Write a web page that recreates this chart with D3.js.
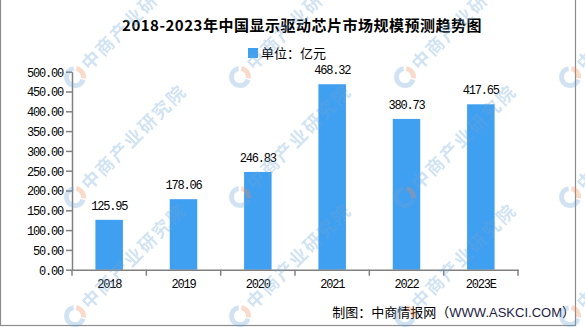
<!DOCTYPE html>
<html>
<head>
<meta charset="utf-8">
<script src="https://cdn.jsdelivr.net/npm/d3@7/dist/d3.min.js"></script>
<style>
  html, body { margin: 0; padding: 0; background: #fff; }
  svg { display: block; }
  .num { font-family: "Liberation Mono", "DejaVu Sans Mono", monospace; font-size: 12px; letter-spacing: -1.2px; fill: #000; }
</style>
</head>
<body>
<svg id="chart" width="585" height="327"></svg>
<script>
// Market size of display driver chips in China (亿元)
const categories = ["2018", "2019", "2020", "2021", "2022", "2023E"];
const values = [125.95, 178.06, 246.83, 468.32, 380.73, 417.65];
const yTicks = [0, 50, 100, 150, 200, 250, 300, 350, 400, 450, 500];
const titleText = "2018-2023年中国显示驱动芯片市场规模预测趋势图";
const legendText = "单位：亿元";
const sourceText = "制图：中商情报网（";
const sourceUrl = "WWW.ASKCI.COM";
const sourceEnd = "）";
const watermarkText = "中商产业研究院";

const W = 585, H = 327;
const barColor = "#3f9ff0";
const axisColor = "#808080";
const svg = d3.select("#chart");

// outer frame
svg.append("rect").attr("x", 0.5).attr("y", -1).attr("width", 575).attr("height", 326.5)
  .attr("fill", "#fff").attr("stroke", "#8c8c8c").attr("stroke-width", 1.2);

const x = d3.scaleBand().domain(categories).range([72, 518])
  .paddingInner(0.63).paddingOuter(0.315);
const y = d3.scaleLinear().domain([0, 500]).range([269.7, 71.7]);

// bars
svg.append("g").selectAll("rect").data(values).join("rect")
  .attr("x", (d, i) => x(categories[i]))
  .attr("y", d => y(d))
  .attr("width", x.bandwidth())
  .attr("height", d => y(0) - y(d))
  .attr("fill", barColor);

// value labels
svg.append("g").selectAll("text").data(values).join("text")
  .attr("class", "num")
  .attr("x", (d, i) => x(categories[i]) + x.bandwidth() / 2)
  .attr("y", d => y(d) - 10)
  .attr("text-anchor", "middle")
  .text(d => d.toFixed(2));

// y axis
const yAxis = svg.append("g").attr("transform", "translate(72,0)")
  .call(d3.axisLeft(y).tickValues(yTicks).tickFormat(d3.format(".2f")).tickSize(6).tickPadding(3).tickSizeOuter(0));
yAxis.select(".domain").attr("stroke", axisColor).attr("stroke-width", 1.5);
yAxis.selectAll(".tick line").attr("stroke", axisColor).attr("stroke-width", 1.5);
yAxis.selectAll(".tick text").attr("class", "num").attr("font-family", null).attr("font-size", null).attr("dy", "0.36em");

// x axis: labels centred on bars, ticks on category boundaries
const xAxis = svg.append("g").attr("transform", `translate(0,${y(0)})`)
  .call(d3.axisBottom(x).tickSize(0).tickPadding(10).tickSizeOuter(0));
xAxis.select(".domain").attr("stroke", axisColor).attr("stroke-width", 1.5);
xAxis.selectAll(".tick text").attr("class", "num").attr("font-family", null).attr("font-size", null);
const step = x.step();
const x0 = x.range()[0];
xAxis.append("g").selectAll("line").data(d3.range(categories.length + 1)).join("line")
  .attr("x1", i => x0 + i * step).attr("x2", i => x0 + i * step)
  .attr("y1", 0).attr("y2", 6)
  .attr("stroke", axisColor).attr("stroke-width", 1.5);

// title
svg.append("text").attr("x", 302).attr("y", 31).attr("text-anchor", "middle")
  .attr("font-family", "'Noto Sans CJK SC', sans-serif").attr("font-weight", 700)
  .attr("font-size", 15).attr("letter-spacing", 0.5).attr("fill", "#000")
  .text(titleText);

// legend
svg.append("rect").attr("x", 248).attr("y", 48).attr("width", 10).attr("height", 10).attr("fill", barColor);
svg.append("text").attr("x", 261).attr("y", 57.5)
  .attr("font-family", "'Noto Sans CJK SC', sans-serif").attr("font-size", 13).attr("fill", "#000")
  .text(legendText);

// source line
const src = svg.append("text").attr("x", 575).attr("y", 316.5).attr("text-anchor", "end")
  .attr("font-size", 13).attr("fill", "#000");
src.append("tspan").attr("font-family", "'Noto Sans CJK SC', sans-serif").text(sourceText);
src.append("tspan").attr("font-family", "'Liberation Sans', Arial, sans-serif").attr("fill", "#1c1c44").text(sourceUrl);
src.append("tspan").attr("font-family", "'Noto Sans CJK SC', sans-serif").text(sourceEnd);

// watermark grid
const wmX = [75, 240, 405, 570];
const wmY = [77, 197, 316];
const wm = svg.append("g").attr("opacity", 0.32).attr("pointer-events", "none");
wmY.forEach(cy => wmX.forEach(cx => {
  const g = wm.append("g").attr("transform", `translate(${cx},${cy})`);
  const arc = d3.arc().innerRadius(6).outerRadius(11);
  g.append("path").attr("d", arc({ startAngle: Math.PI * 0.05, endAngle: Math.PI * 0.55 })).attr("fill", "#f08a5d");
  g.append("path").attr("d", arc({ startAngle: Math.PI * 0.6, endAngle: Math.PI * 1.95 })).attr("fill", "#6fa8d8");
  g.append("text").attr("transform", "rotate(-45) translate(14,6)")
    .attr("font-family", "'Noto Sans CJK SC', sans-serif").attr("font-weight", 700)
    .attr("font-size", 18).attr("letter-spacing", 2).attr("fill", "#6fa8d8")
    .text(watermarkText);
}));
</script>
</body>
</html>
